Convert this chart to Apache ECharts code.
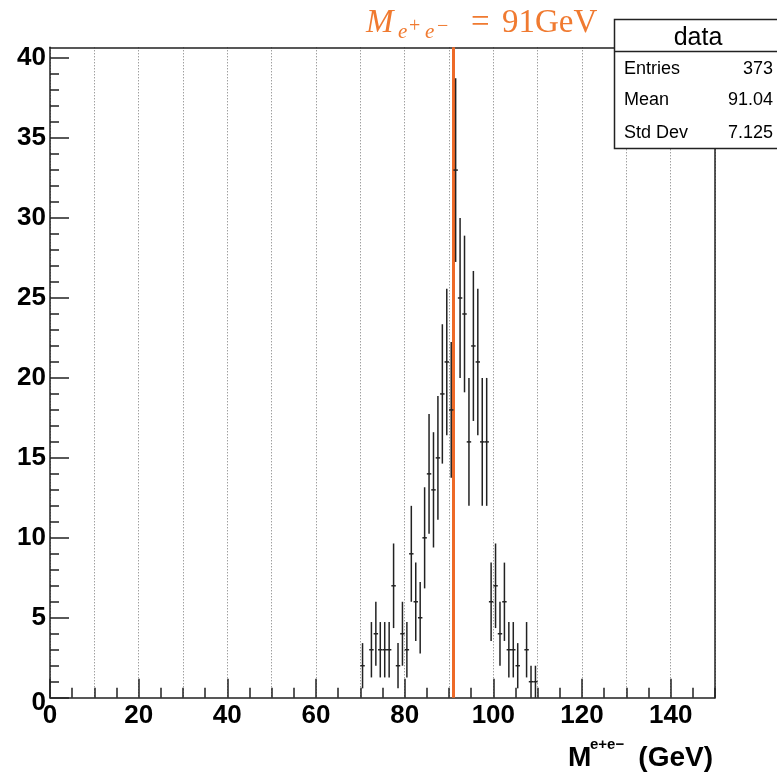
<!DOCTYPE html>
<html>
<head>
<meta charset="utf-8">
<script src="https://cdn.jsdelivr.net/npm/echarts@6/dist/echarts.min.js"></script>
<style>html,body{margin:0;padding:0;background:#fff}#c{width:777px;height:775px}</style>
</head>
<body>
<div id="c"></div>
<script>
// Bin centers (GeV), bin width 1 GeV
const binCenters = [70.5,71.5,72.5,73.5,74.5,75.5,76.5,77.5,78.5,79.5,
  80.5,81.5,82.5,83.5,84.5,85.5,86.5,87.5,88.5,89.5,
  90.5,91.5,92.5,93.5,94.5,95.5,96.5,97.5,98.5,99.5,
  100.5,101.5,102.5,103.5,104.5,105.5,106.5,107.5,108.5,109.5];
const counts = [2,0,3,4,3,3,3,7,2,4,
  3,9,6,5,10,14,13,15,19,21,
  18,33,25,24,16,22,21,16,16,6,
  7,4,6,3,3,2,0,3,1,1];
const xTickLabels = [0,20,40,60,80,100,120,140];
const yTickLabels = [0,5,10,15,20,25,30,35,40];
const xMinorTicks = [0,5,10,15,20,25,30,35,40,45,50,55,60,65,70,75,80,85,90,95,100,105,110,115,120,125,130,135,140,145,150];
const yMinorTicks = [1,2,3,4,6,7,8,9,11,12,13,14,16,17,18,19,21,22,23,24,26,27,28,29,31,32,33,34,36,37,38,39];
const markMass = 91;
const statsLabels = ['Entries','Mean','Std Dev'];
const statsValues = ['373','91.04','7.125'];
const X_MIN = 0, X_MAX = 150, Y_MIN = 0, Y_MAX = 40.68;

const orange = '#f07a30';
const ink = '#222';
const sans = '"Liberation Sans", Arial, Helvetica, sans-serif';
const serif = '"Liberation Serif", "Times New Roman", serif';

const data = binCenters.map((x, i) => [x, counts[i]]);

const chart = echarts.init(document.getElementById('c'), null, {renderer: 'canvas'});

const hidden = {axisLine:{show:false}, axisTick:{show:false}, axisLabel:{show:false}, splitLine:{show:false}};
const frameLine = {show: true, onZero: false, lineStyle: {color: ink, width: 1.5}};
const tickLine = {color: ink, width: 1.5};

const option = {
  animation: false,
  backgroundColor: '#fff',
  grid: {left: 50, right: 62, top: 47.3, bottom: 77.3, containLabel: false, outerBoundsMode: 'none'},
  xAxis: [
    {
      type: 'value', position: 'bottom', min: X_MIN, max: X_MAX, interval: 10,
      axisLine: frameLine,
      axisTick: {show: true, inside: true, length: 19, customValues: xTickLabels, lineStyle: tickLine},
      axisLabel: {show: true, customValues: xTickLabels, margin: 5, color: '#000', fontSize: 26, fontWeight: 'bold', fontFamily: sans},
      splitLine: {show: false}
    },
    {
      type: 'value', position: 'bottom', min: X_MIN, max: X_MAX, interval: 10,
      axisLine: {show: false}, axisTick: {show: false}, axisLabel: {show: false},
      splitLine: {show: true, lineStyle: {color: '#777', width: 1, type: [1, 2]}}
    },
    {
      type: 'value', position: 'bottom', min: X_MIN, max: X_MAX, interval: 5,
      axisLine: {show: false}, axisLabel: {show: false}, splitLine: {show: false},
      axisTick: {show: true, inside: true, length: 10, customValues: xMinorTicks, lineStyle: tickLine}
    },
    Object.assign({type: 'value', position: 'top', min: X_MIN, max: X_MAX}, hidden, {axisLine: frameLine})
  ],
  yAxis: [
    {
      type: 'value', position: 'left', min: Y_MIN, max: Y_MAX,
      axisLine: frameLine,
      axisTick: {show: true, inside: true, length: 19, customValues: yTickLabels, lineStyle: tickLine},
      axisLabel: {show: true, customValues: yTickLabels, margin: 4, color: '#000', fontSize: 26, fontWeight: 'bold', fontFamily: sans,
        formatter: v => v === 0 ? '{z|0}' : String(v),
        rich: {z: {fontSize: 26, fontWeight: 'bold', fontFamily: sans, color: '#000', padding: [10, 0, 0, 0]}}},
      splitLine: {show: false}
    },
    {
      type: 'value', position: 'left', min: Y_MIN, max: Y_MAX,
      axisLine: {show: false}, axisLabel: {show: false}, splitLine: {show: false},
      axisTick: {show: true, inside: true, length: 9, customValues: yMinorTicks, lineStyle: tickLine}
    },
    Object.assign({type: 'value', position: 'right', min: Y_MIN, max: Y_MAX}, hidden, {axisLine: frameLine})
  ],
  series: [
    {
      type: 'custom', xAxisIndex: 0, yAxisIndex: 0, silent: true, z: 5,
      data: data,
      renderItem: function (params, api) {
        const x = api.value(0), y = api.value(1);
        if (!(y > 0)) return null;
        const e = Math.sqrt(y);
        const top = api.coord([x, y + e]);
        const bot = api.coord([x, Math.max(0, y - e)]);
        const l = api.coord([x - 0.5, y]);
        const r = api.coord([x + 0.5, y]);
        const st = {stroke: ink, lineWidth: 1.5};
        return {type: 'group', children: [
          {type: 'line', shape: {x1: top[0], y1: top[1], x2: bot[0], y2: bot[1]}, style: st},
          {type: 'line', shape: {x1: l[0], y1: l[1], x2: r[0], y2: r[1]}, style: st}
        ]};
      }
    },
    {
      type: 'line', xAxisIndex: 0, yAxisIndex: 0, data: [], silent: true, z: 6,
      markLine: {
        silent: true, symbol: ['none', 'none'], animation: false,
        label: {show: false},
        lineStyle: {color: '#ee6a28', width: 3, type: 'solid'},
        data: [{xAxis: markMass}]
      }
    }
  ],
  graphic: [
    {type: 'text', z: 100, style: {x: 366, y: 23, text: 'M', font: 'italic 33px ' + serif, fill: orange, textVerticalAlign: 'middle'}},
    {type: 'text', z: 100, style: {x: 398, y: 32, text: 'e', font: 'italic 21px ' + serif, fill: orange, textVerticalAlign: 'middle'}},
    {type: 'text', z: 100, style: {x: 409, y: 27, text: '+', font: '20px ' + serif, fill: orange, textVerticalAlign: 'middle'}},
    {type: 'text', z: 100, style: {x: 425, y: 32, text: 'e', font: 'italic 21px ' + serif, fill: orange, textVerticalAlign: 'middle'}},
    {type: 'text', z: 100, style: {x: 437, y: 27, text: '\u2212', font: '20px ' + serif, fill: orange, textVerticalAlign: 'middle'}},
    {type: 'text', z: 100, style: {x: 471, y: 23, text: '=', font: '33px ' + serif, fill: orange, textVerticalAlign: 'middle'}},
    {type: 'text', z: 100, style: {x: 502, y: 23, text: '91GeV', font: '33px ' + serif, fill: orange, textVerticalAlign: 'middle'}},
    {type: 'text', z: 100, style: {x: 568, y: 758, text: 'M', font: 'bold 28px ' + sans, fill: '#000', textVerticalAlign: 'middle'}},
    {type: 'text', z: 100, style: {x: 590, y: 744.5, text: 'e+e\u2212', font: 'bold 15px ' + sans, fill: '#000', textVerticalAlign: 'middle'}},
    {type: 'text', z: 100, style: {x: 713, y: 758, text: '(GeV)', font: 'bold 28px ' + sans, fill: '#000', textAlign: 'right', textVerticalAlign: 'middle'}},
    {type: 'rect', z: 100, shape: {x: 614.5, y: 19.5, width: 180, height: 129}, style: {fill: '#fff', stroke: ink, lineWidth: 1.5}},
    {type: 'line', z: 101, shape: {x1: 614.5, y1: 51.5, x2: 777, y2: 51.5}, style: {stroke: ink, lineWidth: 1.5}},
    {type: 'text', z: 102, style: {x: 698, y: 38, text: 'data', font: '25px ' + sans, fill: '#000', textAlign: 'center', textVerticalAlign: 'middle'}},
    {type: 'text', z: 102, style: {x: 624, y: 69.5, text: statsLabels[0], font: '18px ' + sans, fill: '#000', textVerticalAlign: 'middle'}},
    {type: 'text', z: 102, style: {x: 624, y: 100.5, text: statsLabels[1], font: '18px ' + sans, fill: '#000', textVerticalAlign: 'middle'}},
    {type: 'text', z: 102, style: {x: 624, y: 133, text: statsLabels[2], font: '18px ' + sans, fill: '#000', textVerticalAlign: 'middle'}},
    {type: 'text', z: 102, style: {x: 773, y: 69.5, text: statsValues[0], font: '18px ' + sans, fill: '#000', textAlign: 'right', textVerticalAlign: 'middle'}},
    {type: 'text', z: 102, style: {x: 773, y: 100.5, text: statsValues[1], font: '18px ' + sans, fill: '#000', textAlign: 'right', textVerticalAlign: 'middle'}},
    {type: 'text', z: 102, style: {x: 773, y: 133, text: statsValues[2], font: '18px ' + sans, fill: '#000', textAlign: 'right', textVerticalAlign: 'middle'}}
  ]
};
chart.setOption(option);
</script>
</body>
</html>
